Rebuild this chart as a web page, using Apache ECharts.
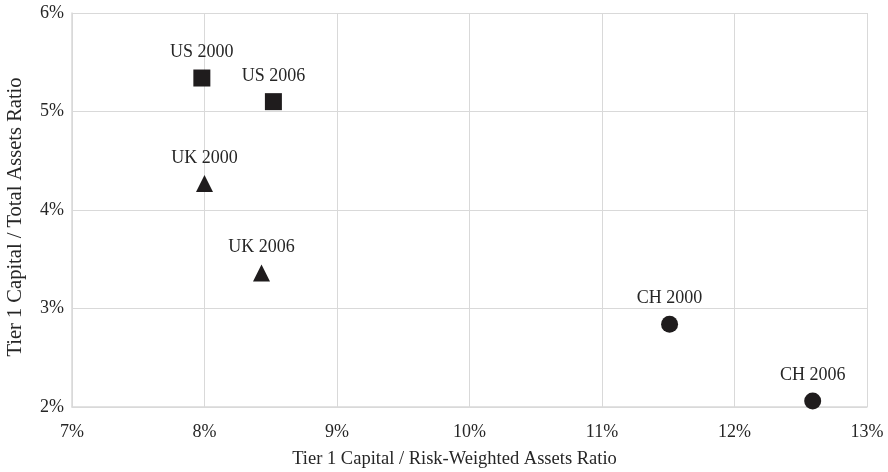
<!DOCTYPE html>
<html>
<head>
<meta charset="utf-8">
<script src="https://cdn.jsdelivr.net/npm/echarts@6/dist/echarts.min.js"></script>
<style>
html,body{margin:0;padding:0;background:#fff;}
#c{width:888px;height:472px;}
</style>
</head>
<body>
<div id="c"></div>
<script>
// Data (percent units)
const names = ['US 2000', 'US 2006', 'UK 2000', 'UK 2006', 'CH 2000', 'CH 2006'];
const rwaRatio = [7.98, 8.52, 8.00, 8.43, 11.51, 12.59];   // x: Tier 1 / RWA
const taRatio  = [5.34, 5.10, 4.27, 3.36, 2.84, 2.06];     // y: Tier 1 / Total Assets
const groups   = ['US', 'US', 'UK', 'UK', 'CH', 'CH'];
const xTicks = [7, 8, 9, 10, 11, 12, 13];
const yTicks = [2, 3, 4, 5, 6];

const symbols = { US: 'rect', UK: 'triangle', CH: 'circle' };

const FONT = '"Liberation Serif", "Times New Roman", serif';
const TXT = '#262626';

function seriesFor(g) {
  const data = [];
  names.forEach((n, i) => {
    if (groups[i] === g) data.push({ value: [rwaRatio[i], taRatio[i]], name: n });
  });
  return {
    type: 'scatter',
    name: g,
    symbol: symbols[g],
    symbolSize: 17,
    itemStyle: { color: '#1f1c1d', opacity: 1 },
    data: data,
    label: {
      show: true,
      position: 'top',
      distance: 8,
      formatter: p => p.name,
      fontFamily: FONT,
      fontSize: 18,
      color: TXT
    }
  };
}

const chart = echarts.init(document.getElementById('c'));
chart.setOption({
  animation: false,
  grid: { left: 72, right: 21, top: 13, bottom: 65, outerBoundsMode: 'none', containLabel: false },
  xAxis: {
    type: 'value',
    min: xTicks[0], max: xTicks[xTicks.length - 1], interval: 1,
    name: 'Tier 1 Capital / Risk-Weighted Assets Ratio',
    nameLocation: 'middle', nameGap: 43,
    nameTextStyle: { fontFamily: FONT, fontSize: 18.5, color: TXT, padding: [0, 30, 0, 0] },
    axisLine: { show: true, lineStyle: { color: '#d9d9d9', width: 1.5 } },
    axisTick: { show: false },
    axisLabel: { formatter: v => v + '%', fontFamily: FONT, fontSize: 18, color: TXT, margin: 16 },
    splitLine: { show: true, lineStyle: { color: '#d9d9d9', width: 1 } }
  },
  yAxis: {
    type: 'value',
    min: yTicks[0], max: yTicks[yTicks.length - 1], interval: 1,
    name: 'Tier 1 Capital / Total Assets Ratio',
    nameLocation: 'middle', nameGap: 46,
    nameTextStyle: { fontFamily: FONT, fontSize: 20.5, color: TXT, padding: [0, 14, 0, 0] },
    axisLine: { show: true, lineStyle: { color: '#d9d9d9', width: 1.5 } },
    axisTick: { show: false },
    axisLabel: { formatter: v => v + '%', fontFamily: FONT, fontSize: 18, color: TXT, margin: 8, padding: [10, 0, 0, 0] },
    splitLine: { show: true, lineStyle: { color: '#d9d9d9', width: 1 } }
  },
  series: ['US', 'UK', 'CH'].map(seriesFor)
});
</script>
</body>
</html>
